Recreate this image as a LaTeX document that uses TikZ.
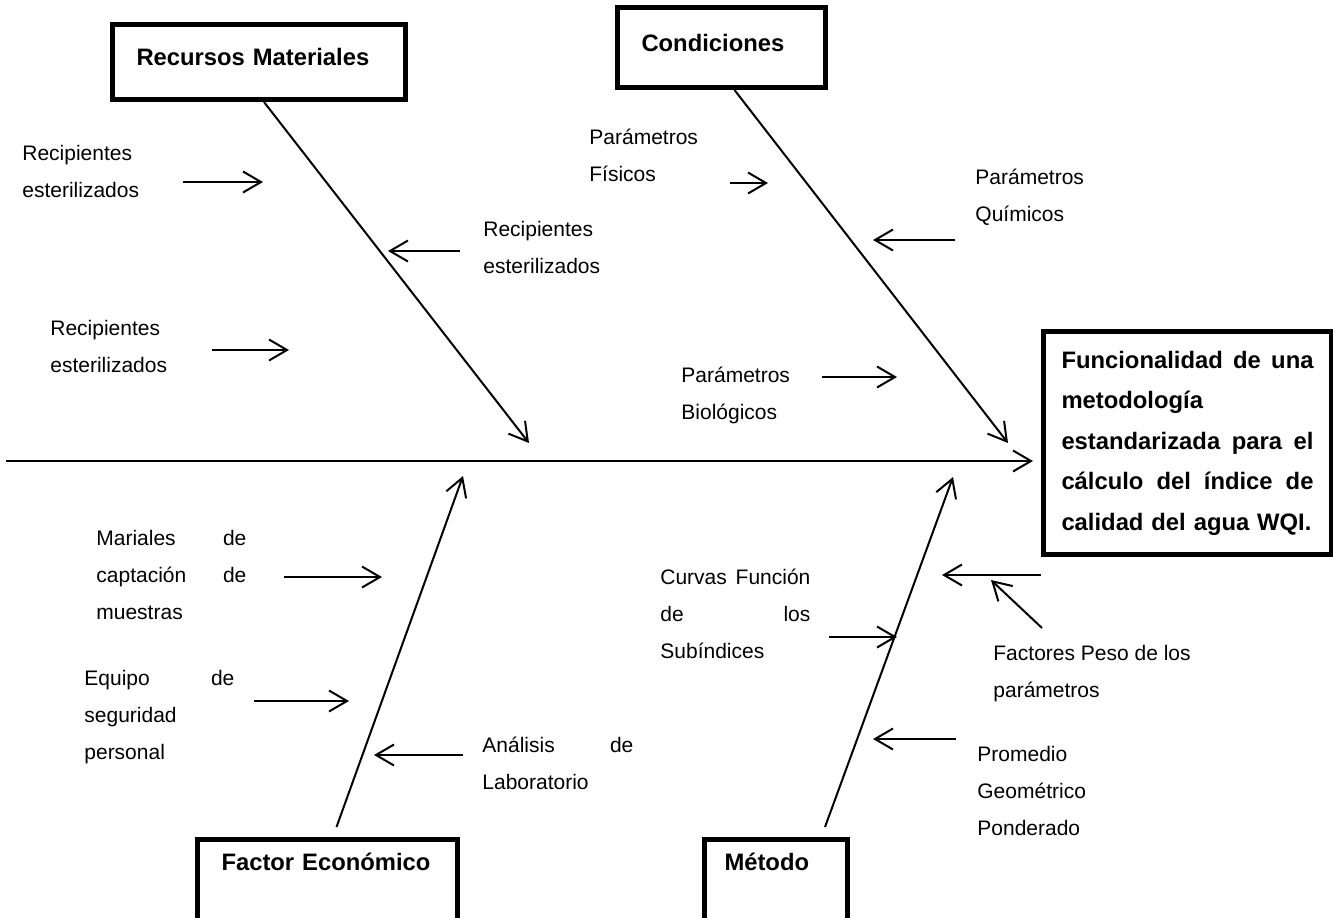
\documentclass[tikz,border=0pt]{standalone}
\usepackage{fontspec}
\setmainfont{Liberation Sans}
\usetikzlibrary{arrows.meta,positioning}

\begin{document}
\begin{tikzpicture}[x=0.5pt,y=-0.5pt,
    causa/.style={draw, line width=2.5pt, anchor=north west, align=left,
        inner xsep=12pt, inner ysep=7pt, font=\bfseries\fontsize{11.9}{20.25}\selectfont},
    texto/.style={anchor=north west, inner sep=0pt, align=left,
        font=\fontsize{10.5}{18.5}\selectfont},
    hueso/.style={line width=1pt, -{Straight Barb[length=9pt,width=10.5pt]}},
    flecha/.style={line width=1pt, -{Straight Barb[length=9pt,width=10.5pt]}}
]
\path[use as bounding box, clip] (0,0) rectangle (1333,917);

% cajas de causas y efecto
\node[causa, text width=122.5pt, text height=13.5pt, text depth=10pt] (recursos) at (110,22) {Recursos Materiales};
\node[causa, text width=80pt, text height=15pt, text depth=11pt] (condiciones) at (615,5) {Condiciones};
\node[causa, text width=106pt, text height=8.5pt, text depth=35pt] (economico) at (195,837) {Factor Económico};
\node[causa, text width=51.5pt, inner xsep=10pt, text height=8.5pt, text depth=35pt] (metodo) at (702,837) {Método};
\node[causa, text width=126pt, inner xsep=9pt, minimum height=111.5pt] (efecto) at (1041,329)
    {Funcionalidad\hfill de\hfill una\\metodología\\estandarizada\hfill para\hfill el\\cálculo\hfill del\hfill índice\hfill de\\calidad del agua WQI.};

% espina y huesos
\coordinate (cola) at (6,461);
\coordinate (rm-tip) at (529,443);
\coordinate (co-tip) at (1008,443);
\coordinate (fe-tip) at (463,476);
\coordinate (me-tip) at (953,477);
\draw[hueso, shorten >=4pt] (cola) -- (cola -| efecto.west);
\draw[hueso] ([xshift=2.5pt]recursos.south) -- (rm-tip);
\draw[hueso] ([xshift=6.5pt]condiciones.south) -- (co-tip);
\draw[hueso] ([xshift=4.5pt,yshift=5pt]economico.north) -- (fe-tip);
\draw[hueso] ([xshift=24.5pt,yshift=5pt]metodo.north) -- (me-tip);

% subcausas
\node[texto] (rec1) at (22,145) {Recipientes\\esterilizados};
\node[texto] (rec2) at (483,221) {Recipientes\\esterilizados};
\node[texto] (rec3) at (50,320) {Recipientes\\esterilizados};
\node[texto] (fis) at (589,129) {Parámetros\\Físicos};
\node[texto] (qui) at (975,169) {Parámetros\\Químicos};
\node[texto] (bio) at (681,367) {Parámetros\\Biológicos};
\node[texto, text width=75pt] (mar) at (96,530) {Mariales\hfill de\\captación\hfill de\\muestras};
\node[texto, text width=75pt] (equ) at (84,670) {Equipo\hfill de\\seguridad\\personal};
\node[texto, text width=75.5pt] (ana) at (482,737) {Análisis\hfill de\\Laboratorio};
\node[texto, text width=75pt] (cur) at (660,569) {Curvas\hfill Función\\de\hfill los\\Subíndices};
\node[texto] (fac) at (993,645) {Factores Peso de los\\parámetros};
\node[texto] (pro) at (977,746) {Promedio\\Geométrico\\Ponderado};

% flechas pequenas
\foreach \n/\xa/\xb/\y in {f1/183/263/182, f2/460/388/251, f3/212/289/350,
    f4/730/768/183, f5/955/873/240, f6/822/897/377,
    f7/284/382/577, f8/254/349/701, f9/463/374/755,
    f10/829/897/637, f11/1041/942/575, f12/956/873/739}{
  \coordinate (\n-a) at (\xa,\y);
  \coordinate (\n-b) at (\xb,\y);
  \draw[flecha] (\n-a) -- (\n-b);
}
\coordinate (f13-a) at (1042,628);
\coordinate (f13-b) at (991,580);
\draw[flecha] (f13-a) -- (f13-b);

\end{tikzpicture}
\end{document}
